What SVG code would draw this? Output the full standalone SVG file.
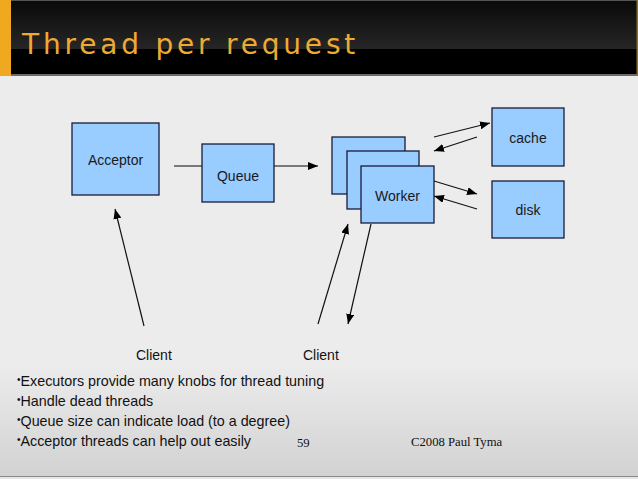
<svg xmlns="http://www.w3.org/2000/svg" width="638" height="479" viewBox="0 0 638 479">
<defs>
<linearGradient id="hdrTop" x1="0" y1="0" x2="0" y2="1">
<stop offset="0" stop-color="#0a0a0a"/>
<stop offset="1" stop-color="#262626"/>
</linearGradient>
<linearGradient id="bg" x1="0" y1="0" x2="0" y2="1">
<stop offset="0" stop-color="#ececec"/>
<stop offset="0.72" stop-color="#ececec"/>
<stop offset="1" stop-color="#d2d2d2"/>
</linearGradient>
<marker id="ah" markerUnits="userSpaceOnUse" markerWidth="11" markerHeight="8" refX="10" refY="4" orient="auto">
<path d="M0,0 L10,4 L0,8 z" fill="#000"/>
</marker>
<style>
.box{fill:#99ccff;stroke:#1b1b3a;stroke-width:1.3}
.lbl{font-family:"Liberation Sans",Arial,sans-serif;font-size:14px;fill:#1a1a1a;text-anchor:middle}
.txt{font-family:"Liberation Sans",Arial,sans-serif;font-size:14px;fill:#111}
.bul{font-family:"Liberation Sans",Arial,sans-serif;font-size:14.3px;fill:#111}
.ser{font-family:"Liberation Serif","Times New Roman",serif;font-size:12.7px;fill:#111}
.con{stroke:#111;stroke-width:1.2;fill:none;marker-end:url(#ah)}
</style>
</defs>
<rect x="0" y="0" width="638" height="479" fill="#ececec"/>
<rect x="0" y="76" width="638" height="400" fill="url(#bg)"/>
<line x1="0" y1="476.5" x2="638" y2="476.5" stroke="#8a8a8a" stroke-width="1"/>
<rect x="0" y="477" width="638" height="2" fill="#e6e6e6"/>
<g id="header">
<rect x="0" y="0" width="638" height="76" fill="#000"/>
<rect x="0" y="1" width="638" height="48" fill="url(#hdrTop)"/>
<rect x="0" y="0" width="638" height="1" fill="#555"/>
<rect x="0" y="74" width="638" height="2" fill="#6a6a6a"/>
<rect x="636.5" y="0" width="1.5" height="76" fill="#8a7030"/>
<rect x="0" y="0" width="11" height="76" fill="#f0a820"/>
<text x="22" y="54" font-family="DejaVu Sans, sans-serif" font-size="28" letter-spacing="3.8" fill="#eeaa33">Thread per request</text>
</g>
<g id="connectors">
<line x1="174" y1="166" x2="318" y2="166" stroke="#555" stroke-width="1.6" marker-end="url(#ah)"/>
<line class="con" x1="434" y1="137" x2="490" y2="123"/>
<line class="con" x1="477" y1="137" x2="434" y2="151"/>
<line class="con" x1="434" y1="181" x2="477" y2="194"/>
<line class="con" x1="477" y1="209" x2="434" y2="196"/>
<line class="con" x1="144" y1="326" x2="115" y2="209"/>
<line class="con" x1="318" y1="324" x2="348" y2="224"/>
<line class="con" x1="371" y1="224" x2="348" y2="324"/>
</g>
<g id="acceptor">
<rect class="box" x="72" y="123" width="87" height="72"/>
<text class="lbl" x="115.5" y="165">Acceptor</text>
</g>
<g id="queue">
<rect class="box" x="202" y="144" width="72" height="58"/>
<text class="lbl" x="238" y="181">Queue</text>
</g>
<g id="worker3">
<rect class="box" x="332" y="137" width="73" height="57"/>
</g>
<g id="worker2">
<rect class="box" x="347" y="151" width="72" height="58"/>
</g>
<g id="worker">
<rect class="box" x="361" y="166" width="73" height="57"/>
<text class="lbl" x="397.5" y="201">Worker</text>
</g>
<g id="cache">
<rect class="box" x="492" y="108" width="72" height="58"/>
<text class="lbl" x="528" y="143">cache</text>
</g>
<g id="disk">
<rect class="box" x="492" y="181" width="72" height="57"/>
<text class="lbl" x="528" y="215">disk</text>
</g>
<g id="client1">
<text class="txt" x="136" y="360">Client</text>
</g>
<g id="client2">
<text class="txt" x="303" y="360">Client</text>
</g>
<g id="bullets">
<text class="bul" x="17" y="386"><tspan font-size="10" dy="-3">•</tspan><tspan dy="3">Executors provide many knobs for thread tuning</tspan></text>
<text class="bul" x="17" y="406"><tspan font-size="10" dy="-3">•</tspan><tspan dy="3">Handle dead threads</tspan></text>
<text class="bul" x="17" y="426"><tspan font-size="10" dy="-3">•</tspan><tspan dy="3">Queue size can indicate load (to a degree)</tspan></text>
<text class="bul" x="17" y="446"><tspan font-size="10" dy="-3">•</tspan><tspan dy="3">Acceptor threads can help out easily</tspan></text>
</g>
<g id="footer">
<text class="ser" x="297" y="447">59</text>
<text class="ser" x="411" y="446">C2008 Paul Tyma</text>
</g>
</svg>
